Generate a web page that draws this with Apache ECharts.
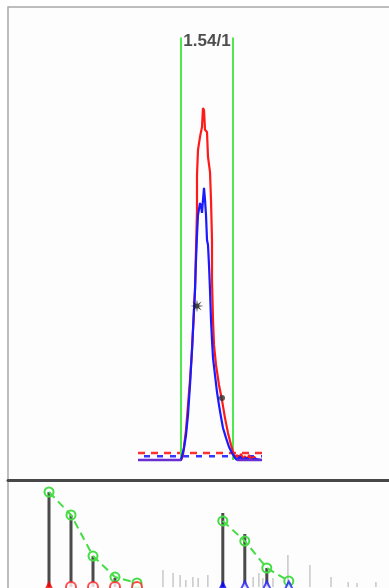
<!DOCTYPE html>
<html><head><meta charset="utf-8">
<script src="https://cdn.jsdelivr.net/npm/echarts@6/dist/echarts.min.js"></script>
<style>html,body{margin:0;padding:0;background:#fff}#c{width:389px;height:588px}</style>
</head><body><div id="c"></div>
<script>
// ---- Top panel: extracted ion chromatograms (time, relative intensity) ----
const redTime = [1.30,1.73,1.75,1.78,1.80,1.82,1.84,1.85,1.87,1.88,1.89,1.89,1.90,1.92,1.94,1.95,1.96,1.97,1.99,2.00,2.02,2.03,2.04,2.04,2.05,2.06,2.08,2.11,2.14,2.17,2.20,2.23,2.25,2.27,2.29,2.31,2.33,2.35,2.37,2.39,2.41,2.43,2.46,2.49,2.54];
const redIntensity = [0,0,1.4,8.5,15.6,22.7,31.3,36.9,48.3,59.7,71.0,81.0,88.1,91.8,94.6,100,99.4,93.8,93.2,86.1,81.8,73.9,62.5,51.1,39.8,32.7,27.0,21.3,17.0,11.9,7.7,4.3,2.3,0.6,1.4,0.3,1.7,0.3,1.1,0,1.4,0.3,0.9,0,0];
const blueTime = [1.30,1.73,1.74,1.76,1.78,1.80,1.82,1.84,1.86,1.87,1.88,1.89,1.90,1.92,1.93,1.94,1.95,1.96,1.97,1.98,1.99,2.00,2.01,2.02,2.03,2.04,2.05,2.07,2.09,2.11,2.13,2.15,2.18,2.21,2.24,2.27,2.29,2.32,2.35,2.38,2.42,2.47,2.54];
const blueIntensity = [0,0,1.1,3.4,7.1,12.8,21.3,31.3,42.6,48.3,56.8,63.9,69.6,73.0,72.2,70.2,73.9,77.3,73.9,69.6,62.5,61.1,55.4,48.3,39.8,34.1,29.0,24.1,19.3,15.6,12.2,9.1,6.3,3.7,2.0,0.6,0,0.9,0,0.6,0,0.3,0];
const overlapSegments = [[1.30,1.73],[2.29,2.54]];
const redNoiseLevel = 2.0;
const blueNoiseLevel = 1.1;
const traceRange = [1.30, 2.54];
const boundaryTimes = [1.73, 2.25];
const boundaryTop = 120;
const ratioLabel = '1.54/1';
const ratioLabelPos = [1.99, 119];
const apexMarker = [1.89, 43.75];
const tailMarker = [2.14, 17.6];

// ---- Bottom panel: isotope envelopes (m/z, relative intensity) ----
const lightMz = [500.0,500.5,501.0,501.5,502.0];
const lightObserved = [100,75.8,32.6,9.5,0];
const lightTheoretical = [100,75.8,32.6,10.5,4.2];
const heavyMz = [503.95,504.45,504.95,505.45];
const heavyObserved = [77.9,55.8,20.0,5.0];
const heavyTheoretical = [69.5,48.4,20.0,6.3];
const noiseMz = [502.59,502.82,502.98,503.11,503.27,503.39,503.61,504.64,504.77,504.86,505.09,505.43,505.93,506.41,506.80,507.00,507.43];
const noiseIntensity = [17.9,14.7,12.6,7.4,10.5,9.5,12.6,10.5,14.7,9.5,9.5,33.7,23.2,10.5,5.3,4.2,5.3];

const zip = (a,b) => a.map((v,i)=>[v,b[i]]);
const starPath = 'path://M10,5 L6.48,5.61 L8.54,8.54 L5.61,6.48 L5,10 L4.39,6.48 L1.46,8.54 L3.52,5.61 L0,5 L3.52,4.39 L1.46,1.46 L4.39,3.52 L5,0 L5.61,3.52 L8.54,1.46 L6.48,4.39 Z';

function stemSeries(name, mz, vals, color, width, z){
  return {
    name, type:'custom', xAxisIndex:1, yAxisIndex:1, z,
    data: zip(mz, vals),
    renderItem: (params, api) => {
      const p0 = api.coord([api.value(0), 0]);
      const p1 = api.coord([api.value(0), api.value(1)]);
      return {type:'line', shape:{x1:p0[0],y1:p0[1],x2:p1[0],y2:p1[1]}, style:{stroke:color, lineWidth:width}};
    }
  };
}

const series = [];
// dashed noise levels
series.push({type:'line', data:[[traceRange[0],redNoiseLevel],[traceRange[1],redNoiseLevel]], symbol:'none', lineStyle:{color:'#ff3030', width:2.5, type:[7,6]}, z:2});
series.push({type:'line', data:[[traceRange[0],blueNoiseLevel],[traceRange[1],blueNoiseLevel]], symbol:'none', lineStyle:{color:'#3535ff', width:2.5, type:[6,7], dashOffset:7}, z:2});
// boundaries
boundaryTimes.forEach(t => series.push({type:'line', data:[[t,0],[t,boundaryTop]], symbol:'none', lineStyle:{color:'#4fe84f', width:2}, z:3}));
// traces
series.push({type:'line', data:zip(redTime, redIntensity), symbol:'none', lineStyle:{color:'#ff1a1a', width:2.2}, z:4});
series.push({type:'line', data:zip(blueTime, blueIntensity), symbol:'none', lineStyle:{color:'#1a1aff', width:2.2}, z:5});
overlapSegments.forEach(s => series.push({type:'line', data:[[s[0],0],[s[1],0]], symbol:'none', lineStyle:{color:'#6a2fd0', width:2.5}, z:6}));
// markers
series.push({type:'scatter', data:[apexMarker], symbol:starPath, symbolSize:13, itemStyle:{color:'#111'}, z:7});
series.push({type:'scatter', data:[tailMarker], symbol:'circle', symbolSize:6, itemStyle:{color:'#333'}, z:7});
// label
series.push({type:'scatter', data:[ratioLabelPos], symbolSize:0, z:8,
  label:{show:true, position:'inside', formatter:ratioLabel, color:'#222', fontSize:17, fontWeight:'bold', fontFamily:'Liberation Sans, Arial, sans-serif'}});

// bottom panel
series.push(stemSeries('noise', noiseMz, noiseIntensity, '#c8c8c8', 1.5, 2));
series.push(stemSeries('light', lightMz, lightObserved, '#4a4a4a', 3, 3));
series.push(stemSeries('heavy', heavyMz, heavyObserved, '#4a4a4a', 3, 3));
[lightTheoretical, heavyTheoretical].forEach((vals, k) => {
  const mz = k===0 ? lightMz : heavyMz;
  series.push({type:'line', xAxisIndex:1, yAxisIndex:1, data:zip(mz, vals), symbol:'circle', symbolSize:9,
    lineStyle:{color:'#44dd44', width:2, type:[8,5]}, itemStyle:{color:'rgba(0,0,0,0)', borderColor:'#44dd44', borderWidth:2}, z:4});
});
series.push({type:'scatter', xAxisIndex:1, yAxisIndex:1, z:6,
  data: lightMz.map((m,i)=>({value:[m,0], symbol: i===0?'triangle':'circle', symbolSize: i===0?13:10,
    itemStyle: i===0?{color:'#ff0000'}:{color:'#fff', borderColor:'#ff2020', borderWidth:2}}))});
series.push({type:'scatter', xAxisIndex:1, yAxisIndex:1, z:6,
  data: heavyMz.map((m,i)=>({value:[m,0], symbol:'triangle', symbolSize: i===0?13:11,
    itemStyle: i===0?{color:'#0000ff'}:{color:'#fff', borderColor:'#2020ff', borderWidth:2}}))});

const chart = echarts.init(document.getElementById('c'), null, {renderer:'canvas'});
chart.setOption({
  animation:false,
  backgroundColor:'#ffffff',
  grid:[
    {left:8, right:-2, top:7, height:473, show:true, borderColor:'#a8a8a8', borderWidth:1.5, backgroundColor:'#fdfdfd', outerBoundsMode:'none', containLabel:false},
    {left:8, right:-2, top:481, height:130, show:true, borderColor:'#a8a8a8', borderWidth:1.5, backgroundColor:'#fdfdfd', outerBoundsMode:'none', containLabel:false}
  ],
  xAxis:[
    {type:'value', gridIndex:0, min:0, max:3.83, axisLine:{show:true, onZero:false, lineStyle:{color:'#484848', width:3}}, axisTick:{show:false}, axisLabel:{show:false}, splitLine:{show:false}},
    {type:'value', gridIndex:1, min:499.068, max:507.773, axisLine:{show:false}, axisTick:{show:false}, axisLabel:{show:false}, splitLine:{show:false}}
  ],
  yAxis:[
    {type:'value', gridIndex:0, min:-5.68, max:128.69, axisLine:{show:false}, axisTick:{show:false}, axisLabel:{show:false}, splitLine:{show:false}},
    {type:'value', gridIndex:1, min:-25.26, max:111.58, axisLine:{show:false}, axisTick:{show:false}, axisLabel:{show:false}, splitLine:{show:false}}
  ],
  series
});
</script></body></html>
